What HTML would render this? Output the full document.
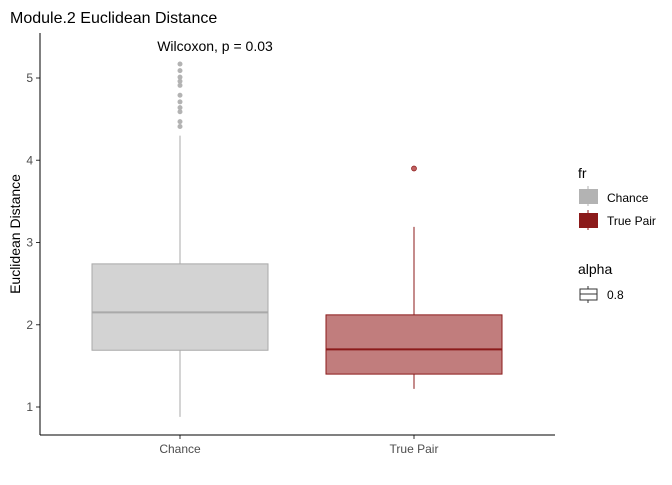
<!DOCTYPE html>
<html><head><meta charset="utf-8"><style>
body{margin:0;background:#fff;font-family:"Liberation Sans",sans-serif}
</style></head><body>
<svg width="672" height="480" xmlns="http://www.w3.org/2000/svg">
<rect width="672" height="480" fill="#fff"/>
<text x="10" y="23" font-size="16" fill="#000">Module.2 Euclidean Distance</text>
<text x="215" y="51" font-size="14" text-anchor="middle" fill="#000">Wilcoxon, p = 0.03</text>
<text transform="translate(20,234) rotate(-90)" font-size="14" text-anchor="middle" fill="#000">Euclidean Distance</text>
<g id="plot"></g>
<line x1="40" y1="33" x2="40" y2="435" stroke="#000"/>
<line x1="40" y1="435" x2="555" y2="435" stroke="#000"/>
<g font-size="12">
<text x="578" y="178" font-size="14">fr</text>
<line x1="588" y1="186" x2="588" y2="206" stroke="#b3b3b3"/>
<rect x="579" y="189" width="19" height="15" fill="#b3b3b3"/>
<text x="607" y="202">Chance</text>
<line x1="588" y1="210" x2="588" y2="230" stroke="#8b1a1a"/>
<rect x="579" y="213" width="19" height="15" fill="#8b1a1a"/>
<text x="607" y="225">True Pair</text>
<text x="578" y="274" font-size="14">alpha</text>
<rect x="580" y="289" width="17" height="11" fill="none" stroke="#333"/>
<line x1="580" y1="294" x2="597" y2="294" stroke="#333"/>
<line x1="588" y1="286" x2="588" y2="289" stroke="#333"/><line x1="588" y1="300" x2="588" y2="303" stroke="#333"/>
<text x="607" y="299">0.8</text>
</g>
</svg>
<script>
const categories=["Chance","True Pair"];
const q1=[1.69,1.40];
const medians=[2.15,1.70];
const q3=[2.74,2.12];
const whiskerLow=[0.88,1.22];
const whiskerHigh=[4.30,3.19];
const outliersChance=[5.17,5.09,5.01,4.96,4.91,4.79,4.71,4.64,4.59,4.47,4.41];
const outliersTrue=[3.90];
const yTicks=[1,2,3,4,5];
const fills=["#d3d3d3","#c17d7d"],strokes=["#a9a9a9","#8b1a1a"],ptCol=["#b3b3b3","#c06060"];
const outliers=[outliersChance,outliersTrue];
const y=v=>407-(v-1)*82.25;
const x=i=>180+i*234;
const g=document.getElementById('plot');
const NS="http://www.w3.org/2000/svg";
function mk(t,a){const e=document.createElementNS(NS,t);for(const k in a)e.setAttribute(k,a[k]);g.appendChild(e);return e;}
yTicks.forEach(t=>{
 const l=mk('line',{x1:36,x2:40,y1:y(t),y2:y(t),stroke:'#333'});
 
 
 const tx=mk('text',{x:33,y:y(t)+4,'text-anchor':'end','font-size':12,fill:'#4d4d4d'});tx.textContent=t;
 
 
});
categories.forEach((c,i)=>{
 const cx=x(i),w=176;
 const wl=mk('line',{x1:cx,x2:cx,y1:y(whiskerHigh[i]),y2:y(whiskerLow[i]),stroke:strokes[i]});
 
 
 const b=mk('rect',{x:cx-w/2,y:y(q3[i]),width:w,height:y(q1[i])-y(q3[i]),fill:fills[i],stroke:strokes[i]});
 
 
 const m=mk('line',{x1:cx-w/2,x2:cx+w/2,y1:y(medians[i]),y2:y(medians[i]),stroke:strokes[i],'stroke-width':2});
 
 
 outliers[i].forEach(v=>{
  const p=mk('circle',{cx:cx,cy:y(v),r:2.5,fill:ptCol[i],stroke:i?'#8b1a1a':'none','stroke-width':0.7});
  
  
 });
 const tk=mk('line',{x1:cx,x2:cx,y1:435,y2:439,stroke:'#333'});
 
 
 const tl=mk('text',{x:cx,y:453,'text-anchor':'middle','font-size':12,fill:'#4d4d4d'});tl.textContent=c;
 
 
});
</script>
</body></html>
